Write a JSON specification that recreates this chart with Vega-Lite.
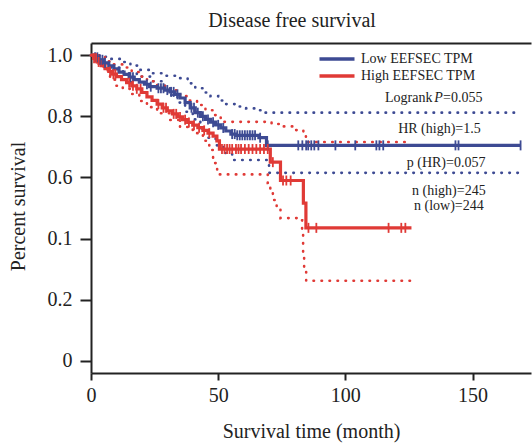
{
  "$schema": "https://vega.github.io/schema/vega-lite/v6.json",
  "width": 440,
  "height": 330,
  "autosize": {"type": "none"},
  "padding": {"left": 91, "top": 43, "right": 1, "bottom": 70},
  "background": "white",
  "title": {"text": "Disease free survival", "font": "Liberation Serif", "fontSize": 20, "fontWeight": "normal", "color": "#222", "anchor": "middle", "frame": "group", "dx": -19, "dy": 20, "offset": 12, "baseline": "bottom"},
  "datasets": {
    "curves": [
      {"g": "Low EEFSEC TPM", "t": 0, "s": 1.0}, {"g": "Low EEFSEC TPM", "t": 1.5, "s": 0.993}, {"g": "Low EEFSEC TPM", "t": 3, "s": 0.985}, {"g": "Low EEFSEC TPM", "t": 5, "s": 0.975}, {"g": "Low EEFSEC TPM", "t": 7, "s": 0.965}, {"g": "Low EEFSEC TPM", "t": 9, "s": 0.955}, {"g": "Low EEFSEC TPM", "t": 11, "s": 0.945}, {"g": "Low EEFSEC TPM", "t": 13, "s": 0.937}, {"g": "Low EEFSEC TPM", "t": 15, "s": 0.928}, {"g": "Low EEFSEC TPM", "t": 17, "s": 0.92}, {"g": "Low EEFSEC TPM", "t": 19, "s": 0.912}, {"g": "Low EEFSEC TPM", "t": 21, "s": 0.905}, {"g": "Low EEFSEC TPM", "t": 23, "s": 0.897}, {"g": "Low EEFSEC TPM", "t": 26, "s": 0.892}, {"g": "Low EEFSEC TPM", "t": 29, "s": 0.886}, {"g": "Low EEFSEC TPM", "t": 31, "s": 0.88}, {"g": "Low EEFSEC TPM", "t": 33, "s": 0.872}, {"g": "Low EEFSEC TPM", "t": 35, "s": 0.86}, {"g": "Low EEFSEC TPM", "t": 37, "s": 0.845}, {"g": "Low EEFSEC TPM", "t": 39, "s": 0.828}, {"g": "Low EEFSEC TPM", "t": 41, "s": 0.812}, {"g": "Low EEFSEC TPM", "t": 43, "s": 0.8}, {"g": "Low EEFSEC TPM", "t": 45, "s": 0.79}, {"g": "Low EEFSEC TPM", "t": 47, "s": 0.781}, {"g": "Low EEFSEC TPM", "t": 49, "s": 0.772}, {"g": "Low EEFSEC TPM", "t": 51, "s": 0.762}, {"g": "Low EEFSEC TPM", "t": 53, "s": 0.752}, {"g": "Low EEFSEC TPM", "t": 55, "s": 0.742}, {"g": "Low EEFSEC TPM", "t": 57, "s": 0.738}, {"g": "Low EEFSEC TPM", "t": 66, "s": 0.73}, {"g": "Low EEFSEC TPM", "t": 69, "s": 0.705}, {"g": "Low EEFSEC TPM", "t": 169, "s": 0.705},
      {"g": "High EEFSEC TPM", "t": 0, "s": 1.0}, {"g": "High EEFSEC TPM", "t": 1, "s": 0.99}, {"g": "High EEFSEC TPM", "t": 2.5, "s": 0.978}, {"g": "High EEFSEC TPM", "t": 4, "s": 0.966}, {"g": "High EEFSEC TPM", "t": 5.5, "s": 0.956}, {"g": "High EEFSEC TPM", "t": 7, "s": 0.947}, {"g": "High EEFSEC TPM", "t": 8.5, "s": 0.938}, {"g": "High EEFSEC TPM", "t": 10, "s": 0.93}, {"g": "High EEFSEC TPM", "t": 12, "s": 0.92}, {"g": "High EEFSEC TPM", "t": 14, "s": 0.91}, {"g": "High EEFSEC TPM", "t": 16, "s": 0.9}, {"g": "High EEFSEC TPM", "t": 18, "s": 0.89}, {"g": "High EEFSEC TPM", "t": 20, "s": 0.878}, {"g": "High EEFSEC TPM", "t": 22, "s": 0.864}, {"g": "High EEFSEC TPM", "t": 24, "s": 0.852}, {"g": "High EEFSEC TPM", "t": 26, "s": 0.84}, {"g": "High EEFSEC TPM", "t": 28, "s": 0.828}, {"g": "High EEFSEC TPM", "t": 30, "s": 0.818}, {"g": "High EEFSEC TPM", "t": 32, "s": 0.808}, {"g": "High EEFSEC TPM", "t": 34, "s": 0.798}, {"g": "High EEFSEC TPM", "t": 36, "s": 0.789}, {"g": "High EEFSEC TPM", "t": 38, "s": 0.78}, {"g": "High EEFSEC TPM", "t": 40, "s": 0.771}, {"g": "High EEFSEC TPM", "t": 42, "s": 0.763}, {"g": "High EEFSEC TPM", "t": 44, "s": 0.754}, {"g": "High EEFSEC TPM", "t": 46, "s": 0.745}, {"g": "High EEFSEC TPM", "t": 48, "s": 0.735}, {"g": "High EEFSEC TPM", "t": 49.5, "s": 0.72}, {"g": "High EEFSEC TPM", "t": 50.5, "s": 0.693}, {"g": "High EEFSEC TPM", "t": 70.5, "s": 0.65}, {"g": "High EEFSEC TPM", "t": 74.5, "s": 0.59}, {"g": "High EEFSEC TPM", "t": 83.5, "s": 0.516}, {"g": "High EEFSEC TPM", "t": 84.5, "s": 0.435}, {"g": "High EEFSEC TPM", "t": 126, "s": 0.435}
    ],
    "bands": [
      {"g": "Low EEFSEC TPM", "b": "upper", "t": 0, "s": 1.0}, {"g": "Low EEFSEC TPM", "b": "upper", "t": 3.5, "s": 0.995}, {"g": "Low EEFSEC TPM", "b": "upper", "t": 7.5, "s": 0.988}, {"g": "Low EEFSEC TPM", "b": "upper", "t": 11.5, "s": 0.978}, {"g": "Low EEFSEC TPM", "b": "upper", "t": 15.5, "s": 0.966}, {"g": "Low EEFSEC TPM", "b": "upper", "t": 19, "s": 0.952}, {"g": "Low EEFSEC TPM", "b": "upper", "t": 23, "s": 0.941}, {"g": "Low EEFSEC TPM", "b": "upper", "t": 29, "s": 0.933}, {"g": "Low EEFSEC TPM", "b": "upper", "t": 35, "s": 0.925}, {"g": "Low EEFSEC TPM", "b": "upper", "t": 38, "s": 0.908}, {"g": "Low EEFSEC TPM", "b": "upper", "t": 41, "s": 0.892}, {"g": "Low EEFSEC TPM", "b": "upper", "t": 44, "s": 0.878}, {"g": "Low EEFSEC TPM", "b": "upper", "t": 47, "s": 0.866}, {"g": "Low EEFSEC TPM", "b": "upper", "t": 50, "s": 0.852}, {"g": "Low EEFSEC TPM", "b": "upper", "t": 53, "s": 0.84}, {"g": "Low EEFSEC TPM", "b": "upper", "t": 57, "s": 0.832}, {"g": "Low EEFSEC TPM", "b": "upper", "t": 61, "s": 0.826}, {"g": "Low EEFSEC TPM", "b": "upper", "t": 65, "s": 0.82}, {"g": "Low EEFSEC TPM", "b": "upper", "t": 68.5, "s": 0.812}, {"g": "Low EEFSEC TPM", "b": "upper", "t": 167, "s": 0.812},
      {"g": "Low EEFSEC TPM", "b": "lower", "t": 0, "s": 1.0}, {"g": "Low EEFSEC TPM", "b": "lower", "t": 2, "s": 0.985}, {"g": "Low EEFSEC TPM", "b": "lower", "t": 4.7, "s": 0.974}, {"g": "Low EEFSEC TPM", "b": "lower", "t": 8, "s": 0.96}, {"g": "Low EEFSEC TPM", "b": "lower", "t": 12.6, "s": 0.941}, {"g": "Low EEFSEC TPM", "b": "lower", "t": 18, "s": 0.93}, {"g": "Low EEFSEC TPM", "b": "lower", "t": 24, "s": 0.915}, {"g": "Low EEFSEC TPM", "b": "lower", "t": 28, "s": 0.9}, {"g": "Low EEFSEC TPM", "b": "lower", "t": 31, "s": 0.87}, {"g": "Low EEFSEC TPM", "b": "lower", "t": 34, "s": 0.845}, {"g": "Low EEFSEC TPM", "b": "lower", "t": 37, "s": 0.815}, {"g": "Low EEFSEC TPM", "b": "lower", "t": 40, "s": 0.79}, {"g": "Low EEFSEC TPM", "b": "lower", "t": 43, "s": 0.76}, {"g": "Low EEFSEC TPM", "b": "lower", "t": 46, "s": 0.73}, {"g": "Low EEFSEC TPM", "b": "lower", "t": 49, "s": 0.705}, {"g": "Low EEFSEC TPM", "b": "lower", "t": 52, "s": 0.68}, {"g": "Low EEFSEC TPM", "b": "lower", "t": 55.5, "s": 0.657}, {"g": "Low EEFSEC TPM", "b": "lower", "t": 67.3, "s": 0.657}, {"g": "Low EEFSEC TPM", "b": "lower", "t": 70, "s": 0.615}, {"g": "Low EEFSEC TPM", "b": "lower", "t": 168, "s": 0.615},
      {"g": "High EEFSEC TPM", "b": "upper", "t": 0, "s": 1.0}, {"g": "High EEFSEC TPM", "b": "upper", "t": 2, "s": 0.995}, {"g": "High EEFSEC TPM", "b": "upper", "t": 5.5, "s": 0.98}, {"g": "High EEFSEC TPM", "b": "upper", "t": 9, "s": 0.97}, {"g": "High EEFSEC TPM", "b": "upper", "t": 12.6, "s": 0.96}, {"g": "High EEFSEC TPM", "b": "upper", "t": 16, "s": 0.945}, {"g": "High EEFSEC TPM", "b": "upper", "t": 19, "s": 0.93}, {"g": "High EEFSEC TPM", "b": "upper", "t": 22, "s": 0.915}, {"g": "High EEFSEC TPM", "b": "upper", "t": 26, "s": 0.9}, {"g": "High EEFSEC TPM", "b": "upper", "t": 30, "s": 0.885}, {"g": "High EEFSEC TPM", "b": "upper", "t": 35, "s": 0.866}, {"g": "High EEFSEC TPM", "b": "upper", "t": 38.5, "s": 0.852}, {"g": "High EEFSEC TPM", "b": "upper", "t": 41.7, "s": 0.837}, {"g": "High EEFSEC TPM", "b": "upper", "t": 45, "s": 0.82}, {"g": "High EEFSEC TPM", "b": "upper", "t": 48, "s": 0.804}, {"g": "High EEFSEC TPM", "b": "upper", "t": 51, "s": 0.782}, {"g": "High EEFSEC TPM", "b": "upper", "t": 71, "s": 0.775}, {"g": "High EEFSEC TPM", "b": "upper", "t": 74, "s": 0.767}, {"g": "High EEFSEC TPM", "b": "upper", "t": 80, "s": 0.755}, {"g": "High EEFSEC TPM", "b": "upper", "t": 83.5, "s": 0.745}, {"g": "High EEFSEC TPM", "b": "upper", "t": 84.5, "s": 0.716}, {"g": "High EEFSEC TPM", "b": "upper", "t": 124, "s": 0.716},
      {"g": "High EEFSEC TPM", "b": "lower", "t": 0, "s": 1.0}, {"g": "High EEFSEC TPM", "b": "lower", "t": 3, "s": 0.97}, {"g": "High EEFSEC TPM", "b": "lower", "t": 5, "s": 0.95}, {"g": "High EEFSEC TPM", "b": "lower", "t": 7.5, "s": 0.92}, {"g": "High EEFSEC TPM", "b": "lower", "t": 10, "s": 0.9}, {"g": "High EEFSEC TPM", "b": "lower", "t": 12.5, "s": 0.89}, {"g": "High EEFSEC TPM", "b": "lower", "t": 15.4, "s": 0.873}, {"g": "High EEFSEC TPM", "b": "lower", "t": 19, "s": 0.85}, {"g": "High EEFSEC TPM", "b": "lower", "t": 22, "s": 0.83}, {"g": "High EEFSEC TPM", "b": "lower", "t": 26, "s": 0.81}, {"g": "High EEFSEC TPM", "b": "lower", "t": 31, "s": 0.788}, {"g": "High EEFSEC TPM", "b": "lower", "t": 35, "s": 0.765}, {"g": "High EEFSEC TPM", "b": "lower", "t": 40, "s": 0.745}, {"g": "High EEFSEC TPM", "b": "lower", "t": 44, "s": 0.72}, {"g": "High EEFSEC TPM", "b": "lower", "t": 46.5, "s": 0.69}, {"g": "High EEFSEC TPM", "b": "lower", "t": 48, "s": 0.647}, {"g": "High EEFSEC TPM", "b": "lower", "t": 49.6, "s": 0.61}, {"g": "High EEFSEC TPM", "b": "lower", "t": 67.5, "s": 0.61}, {"g": "High EEFSEC TPM", "b": "lower", "t": 69.5, "s": 0.582}, {"g": "High EEFSEC TPM", "b": "lower", "t": 70.5, "s": 0.55}, {"g": "High EEFSEC TPM", "b": "lower", "t": 71.5, "s": 0.526}, {"g": "High EEFSEC TPM", "b": "lower", "t": 73, "s": 0.5}, {"g": "High EEFSEC TPM", "b": "lower", "t": 74.5, "s": 0.467}, {"g": "High EEFSEC TPM", "b": "lower", "t": 82.5, "s": 0.46}, {"g": "High EEFSEC TPM", "b": "lower", "t": 83, "s": 0.418}, {"g": "High EEFSEC TPM", "b": "lower", "t": 83.4, "s": 0.353}, {"g": "High EEFSEC TPM", "b": "lower", "t": 83.8, "s": 0.307}, {"g": "High EEFSEC TPM", "b": "lower", "t": 84.6, "s": 0.262}, {"g": "High EEFSEC TPM", "b": "lower", "t": 125.6, "s": 0.262}
    ],
    "censor": [
      {"g": "Low EEFSEC TPM", "t": 1.6, "s": 0.993}, {"g": "Low EEFSEC TPM", "t": 2.5, "s": 0.993}, {"g": "Low EEFSEC TPM", "t": 3.5, "s": 0.985}, {"g": "Low EEFSEC TPM", "t": 4.5, "s": 0.985}, {"g": "Low EEFSEC TPM", "t": 5.5, "s": 0.975}, {"g": "Low EEFSEC TPM", "t": 15.5, "s": 0.928}, {"g": "Low EEFSEC TPM", "t": 16.5, "s": 0.928}, {"g": "Low EEFSEC TPM", "t": 22, "s": 0.905}, {"g": "Low EEFSEC TPM", "t": 23.5, "s": 0.897}, {"g": "Low EEFSEC TPM", "t": 26.5, "s": 0.892}, {"g": "Low EEFSEC TPM", "t": 27.5, "s": 0.892}, {"g": "Low EEFSEC TPM", "t": 28.5, "s": 0.892}, {"g": "Low EEFSEC TPM", "t": 30, "s": 0.886}, {"g": "Low EEFSEC TPM", "t": 31.5, "s": 0.88}, {"g": "Low EEFSEC TPM", "t": 32.5, "s": 0.88}, {"g": "Low EEFSEC TPM", "t": 34, "s": 0.872}, {"g": "Low EEFSEC TPM", "t": 39.5, "s": 0.828}, {"g": "Low EEFSEC TPM", "t": 40.5, "s": 0.828}, {"g": "Low EEFSEC TPM", "t": 42, "s": 0.812}, {"g": "Low EEFSEC TPM", "t": 44, "s": 0.8}, {"g": "Low EEFSEC TPM", "t": 46, "s": 0.79}, {"g": "Low EEFSEC TPM", "t": 48, "s": 0.781}, {"g": "Low EEFSEC TPM", "t": 50, "s": 0.772}, {"g": "Low EEFSEC TPM", "t": 52, "s": 0.762}, {"g": "Low EEFSEC TPM", "t": 55.5, "s": 0.742}, {"g": "Low EEFSEC TPM", "t": 56.5, "s": 0.742}, {"g": "Low EEFSEC TPM", "t": 57.5, "s": 0.738}, {"g": "Low EEFSEC TPM", "t": 58.5, "s": 0.738}, {"g": "Low EEFSEC TPM", "t": 59.5, "s": 0.738}, {"g": "Low EEFSEC TPM", "t": 60.5, "s": 0.738}, {"g": "Low EEFSEC TPM", "t": 61.5, "s": 0.738}, {"g": "Low EEFSEC TPM", "t": 62.5, "s": 0.738}, {"g": "Low EEFSEC TPM", "t": 63.5, "s": 0.738}, {"g": "Low EEFSEC TPM", "t": 64.5, "s": 0.738}, {"g": "Low EEFSEC TPM", "t": 66.5, "s": 0.73}, {"g": "Low EEFSEC TPM", "t": 69.5, "s": 0.705}, {"g": "Low EEFSEC TPM", "t": 81.5, "s": 0.705}, {"g": "Low EEFSEC TPM", "t": 83.1, "s": 0.705}, {"g": "Low EEFSEC TPM", "t": 84.6, "s": 0.705}, {"g": "Low EEFSEC TPM", "t": 85.4, "s": 0.705}, {"g": "Low EEFSEC TPM", "t": 86.6, "s": 0.705}, {"g": "Low EEFSEC TPM", "t": 87.8, "s": 0.705}, {"g": "Low EEFSEC TPM", "t": 89.4, "s": 0.705}, {"g": "Low EEFSEC TPM", "t": 96.1, "s": 0.705}, {"g": "Low EEFSEC TPM", "t": 103.9, "s": 0.705}, {"g": "Low EEFSEC TPM", "t": 112.2, "s": 0.705}, {"g": "Low EEFSEC TPM", "t": 113.4, "s": 0.705}, {"g": "Low EEFSEC TPM", "t": 114.9, "s": 0.705}, {"g": "Low EEFSEC TPM", "t": 143.3, "s": 0.705}, {"g": "Low EEFSEC TPM", "t": 144.5, "s": 0.705}, {"g": "Low EEFSEC TPM", "t": 168.9, "s": 0.705},
      {"g": "High EEFSEC TPM", "t": 1.2, "s": 0.99}, {"g": "High EEFSEC TPM", "t": 2, "s": 0.99}, {"g": "High EEFSEC TPM", "t": 3, "s": 0.978}, {"g": "High EEFSEC TPM", "t": 7.5, "s": 0.947}, {"g": "High EEFSEC TPM", "t": 8.8, "s": 0.938}, {"g": "High EEFSEC TPM", "t": 9.6, "s": 0.938}, {"g": "High EEFSEC TPM", "t": 15, "s": 0.91}, {"g": "High EEFSEC TPM", "t": 16.5, "s": 0.9}, {"g": "High EEFSEC TPM", "t": 18, "s": 0.89}, {"g": "High EEFSEC TPM", "t": 19.5, "s": 0.89}, {"g": "High EEFSEC TPM", "t": 26.5, "s": 0.84}, {"g": "High EEFSEC TPM", "t": 28.5, "s": 0.828}, {"g": "High EEFSEC TPM", "t": 29.5, "s": 0.828}, {"g": "High EEFSEC TPM", "t": 32.5, "s": 0.808}, {"g": "High EEFSEC TPM", "t": 33.5, "s": 0.808}, {"g": "High EEFSEC TPM", "t": 35, "s": 0.798}, {"g": "High EEFSEC TPM", "t": 37, "s": 0.789}, {"g": "High EEFSEC TPM", "t": 38.5, "s": 0.78}, {"g": "High EEFSEC TPM", "t": 40.5, "s": 0.771}, {"g": "High EEFSEC TPM", "t": 42.5, "s": 0.763}, {"g": "High EEFSEC TPM", "t": 44.5, "s": 0.754}, {"g": "High EEFSEC TPM", "t": 46.5, "s": 0.745}, {"g": "High EEFSEC TPM", "t": 51.5, "s": 0.693}, {"g": "High EEFSEC TPM", "t": 52.5, "s": 0.693}, {"g": "High EEFSEC TPM", "t": 53.5, "s": 0.693}, {"g": "High EEFSEC TPM", "t": 54.5, "s": 0.693}, {"g": "High EEFSEC TPM", "t": 55.5, "s": 0.693}, {"g": "High EEFSEC TPM", "t": 57, "s": 0.693}, {"g": "High EEFSEC TPM", "t": 58, "s": 0.693}, {"g": "High EEFSEC TPM", "t": 59, "s": 0.693}, {"g": "High EEFSEC TPM", "t": 60.5, "s": 0.693}, {"g": "High EEFSEC TPM", "t": 62, "s": 0.693}, {"g": "High EEFSEC TPM", "t": 63.5, "s": 0.693}, {"g": "High EEFSEC TPM", "t": 65, "s": 0.693}, {"g": "High EEFSEC TPM", "t": 66.5, "s": 0.693}, {"g": "High EEFSEC TPM", "t": 68, "s": 0.693}, {"g": "High EEFSEC TPM", "t": 69.5, "s": 0.693}, {"g": "High EEFSEC TPM", "t": 71.5, "s": 0.65}, {"g": "High EEFSEC TPM", "t": 75.5, "s": 0.59}, {"g": "High EEFSEC TPM", "t": 76.8, "s": 0.59}, {"g": "High EEFSEC TPM", "t": 78.5, "s": 0.59}, {"g": "High EEFSEC TPM", "t": 85.5, "s": 0.435}, {"g": "High EEFSEC TPM", "t": 88.6, "s": 0.435}, {"g": "High EEFSEC TPM", "t": 117, "s": 0.435}, {"g": "High EEFSEC TPM", "t": 122, "s": 0.435}, {"g": "High EEFSEC TPM", "t": 123.6, "s": 0.435}
    ],
    "notes": [
      {"label": "Logrank", "kind": "left", "t": 115.6, "s": 0.859},
      {"label": "P", "kind": "italic", "t": 135.0, "s": 0.859},
      {"label": "=0.055", "kind": "left", "t": 138.4, "s": 0.859},
      {"label": "HR (high)=1.5", "kind": "center", "t": 137.0, "s": 0.758},
      {"label": "p (HR)=0.057", "kind": "center", "t": 139.6, "s": 0.647},
      {"label": "n (high)=245", "kind": "center", "t": 140.7, "s": 0.556},
      {"label": "n (low)=244", "kind": "center", "t": 140.7, "s": 0.507}
    ]
  },
  "resolve": {"axis": {"x": "independent"}},
  "layer": [
    {
      "encoding": {
        "x": {
          "field": "t", "type": "quantitative",
          "scale": {"domain": [0, 173], "nice": false, "zero": false},
          "axis": {"orient": "bottom", "values": [0, 50, 100, 150], "tickSize": 7, "labelPadding": 5, "labelFlush": false, "title": "Survival time (month)", "titleX": 220, "titleY": 58, "titleBaseline": "middle", "titleAlign": "center", "titleAnchor": null}
        },
        "y": {
          "field": "s", "type": "quantitative",
          "scale": {"domain": [-0.04, 1.04], "nice": false, "zero": false},
          "axis": {"values": [0, 0.2, 0.4, 0.6, 0.8, 1], "tickSize": 11, "labelPadding": 8, "labelExpr": "datum.value == 0 ? '0' : (abs(datum.value - 0.4) < 0.001 ? '0.1' : format(datum.value, '.1f'))", "title": "Percent survival", "titleX": -73, "titleY": 163, "titleAngle": -90, "titleAlign": "center", "titleBaseline": "middle", "titleAnchor": null}
        },
        "color": {"field": "g", "type": "nominal", "scale": {"domain": ["Low EEFSEC TPM", "High EEFSEC TPM"], "range": ["#3d4a93", "#e03a36"]},
          "legend": {"orient": "none", "legendX": 239, "legendY": 9, "title": null, "symbolType": "M-4,0H4", "symbolSize": 76.6, "symbolStrokeWidth": 3.5, "symbolFillColor": "transparent", "labelFont": "Liberation Serif", "labelFontSize": 14, "labelColor": "#222", "labelOffset": 17, "rowPadding": 3, "padding": 0, "labelBaseline": "middle"}}
      },
      "layer": [
        {
          "data": {"name": "bands"},
          "mark": {"type": "line", "interpolate": "step-after", "strokeDash": [0.5, 7.5], "strokeCap": "round", "strokeWidth": 2.6},
          "encoding": {"detail": {"field": "b", "type": "nominal"}}
        },
        {
          "data": {"name": "curves"},
          "mark": {"type": "line", "interpolate": "step-after", "strokeWidth": 3.2}
        },
        {
          "data": {"name": "censor"},
          "mark": {"type": "point", "shape": "M0,-1L0,1", "size": 100, "filled": false, "strokeWidth": 1.8, "opacity": 1}
        },
        {
          "data": {"name": "notes"},
          "transform": [{"filter": "datum.kind == 'center'"}],
          "mark": {"type": "text", "font": "Liberation Serif", "fontSize": 14, "align": "center", "baseline": "middle"},
          "encoding": {"text": {"field": "label"}, "color": {"value": "#222"}}
        },
        {
          "data": {"name": "notes"},
          "transform": [{"filter": "datum.kind == 'left'"}],
          "mark": {"type": "text", "font": "Liberation Serif", "fontSize": 14, "align": "left", "baseline": "middle"},
          "encoding": {"text": {"field": "label"}, "color": {"value": "#222"}}
        },
        {
          "data": {"name": "notes"},
          "transform": [{"filter": "datum.kind == 'italic'"}],
          "mark": {"type": "text", "font": "Liberation Serif", "fontSize": 14, "fontStyle": "italic", "align": "left", "baseline": "middle"},
          "encoding": {"text": {"field": "label"}, "color": {"value": "#222"}}
        }
      ]
    },
    {
      "data": {"name": "curves"},
      "mark": {"type": "point", "opacity": 0, "color": "#222"},
      "encoding": {
        "x": {"field": "t", "type": "quantitative", "scale": {"domain": [0, 173], "nice": false, "zero": false},
          "axis": {"orient": "top", "ticks": false, "labels": false, "title": null, "domain": true, "domainWidth": 2, "domainColor": "#222", "grid": false}}
      }
    }
  ],
  "config": {
    "view": {"stroke": null},
    "axis": {"labelFont": "Liberation Serif", "titleFont": "Liberation Serif", "labelFontSize": 20, "titleFontSize": 20, "titleFontWeight": "normal", "labelColor": "#222", "titleColor": "#222", "domainColor": "#222", "tickColor": "#222", "domainWidth": 2, "tickWidth": 2, "grid": false}
  }
}
